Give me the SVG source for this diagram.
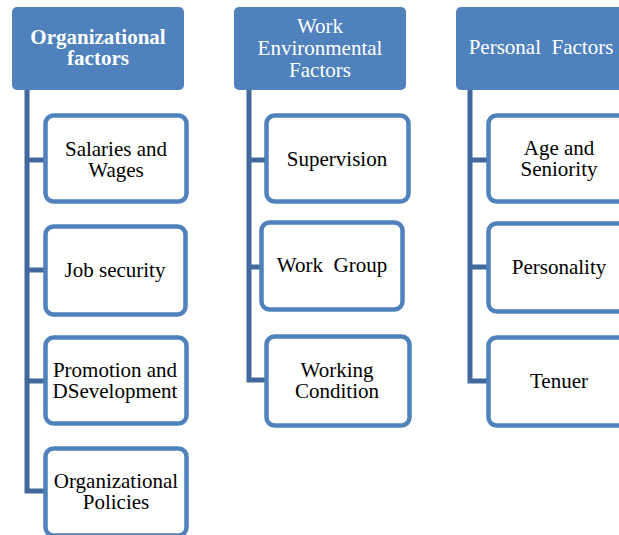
<svg xmlns="http://www.w3.org/2000/svg" width="619" height="535" viewBox="0 0 619 535">
  <style>
    .head { fill: #4F81BD; }
    .item { fill: #FFFFFF; stroke: #4F81BD; stroke-width: 4.5; }
    .link { fill: none; stroke: #41699B; stroke-width: 5; stroke-linejoin: miter; }
    text { font-family: "Liberation Serif", "Times New Roman", serif; font-size: 21px; text-anchor: middle; }
    .ht { fill: #FFFFFF; }
    .hb { font-weight: bold; }
    .it { fill: #000000; }
  </style>

  <rect width="619" height="535" fill="#FFFFFF"/>

  <!-- connectors: trunk from each header with branches to the items -->
  <g id="connectors">
    <path class="link" d="M27,90 V493.5 M27,160 H45 M27,270 H45 M27,381 H45 M27,491 H45"/>
    <path class="link" d="M249,90 V382.5 M249,160 H266 M249,267 H261 M249,380 H266"/>
    <path class="link" d="M470,90 V383.5 M470,160 H488 M470,267 H488 M470,381 H488"/>
  </g>

  <!-- column 1 -->
  <g id="org-factors">
    <rect class="head" x="12" y="7" width="172" height="83" rx="5"/>
    <text class="ht hb" x="98" y="44">Organizational</text>
    <text class="ht hb" x="98" y="65">factors</text>
  </g>
  <g id="salaries">
    <rect class="item" x="45.5" y="115.5" width="141" height="86" rx="8"/>
    <text class="it" x="116" y="156">Salaries and</text>
    <text class="it" x="116" y="177">Wages</text>
  </g>
  <g id="job-security">
    <rect class="item" x="45.5" y="226.5" width="140" height="88" rx="8"/>
    <text class="it" x="115" y="277">Job security</text>
  </g>
  <g id="promotion">
    <rect class="item" x="45.5" y="337.5" width="141" height="86" rx="8"/>
    <text class="it" x="115" y="377">Promotion and</text>
    <text class="it" x="115" y="398">DSevelopment</text>
  </g>
  <g id="policies">
    <rect class="item" x="45.5" y="448.5" width="141" height="87" rx="8"/>
    <text class="it" x="116" y="488">Organizational</text>
    <text class="it" x="116" y="509">Policies</text>
  </g>

  <!-- column 2 -->
  <g id="work-env-factors">
    <rect class="head" x="234" y="7" width="172" height="83" rx="5"/>
    <text class="ht" x="320" y="33">Work</text>
    <text class="ht" x="320" y="55">Environmental</text>
    <text class="ht" x="320" y="77">Factors</text>
  </g>
  <g id="supervision">
    <rect class="item" x="266.5" y="115.5" width="142" height="86" rx="8"/>
    <text class="it" x="337" y="166">Supervision</text>
  </g>
  <g id="work-group">
    <rect class="item" x="261.5" y="222.5" width="141" height="87" rx="8"/>
    <text class="it" x="332" y="272" xml:space="preserve">Work  Group</text>
  </g>
  <g id="working-condition">
    <rect class="item" x="266.5" y="336.5" width="143" height="89" rx="8"/>
    <text class="it" x="337" y="377">Working</text>
    <text class="it" x="337" y="398">Condition</text>
  </g>

  <!-- column 3 -->
  <g id="personal-factors">
    <rect class="head" x="456" y="7" width="172" height="83" rx="5"/>
    <text class="ht" x="541" y="54" xml:space="preserve">Personal  Factors</text>
  </g>
  <g id="age-seniority">
    <rect class="item" x="488.5" y="115.5" width="142" height="86" rx="8"/>
    <text class="it" x="559" y="155">Age and</text>
    <text class="it" x="559" y="176">Seniority</text>
  </g>
  <g id="personality">
    <rect class="item" x="488.5" y="223.5" width="142" height="88" rx="8"/>
    <text class="it" x="559" y="274">Personality</text>
  </g>
  <g id="tenuer">
    <rect class="item" x="488.5" y="337.5" width="142" height="88" rx="8"/>
    <text class="it" x="559" y="388">Tenuer</text>
  </g>
</svg>
